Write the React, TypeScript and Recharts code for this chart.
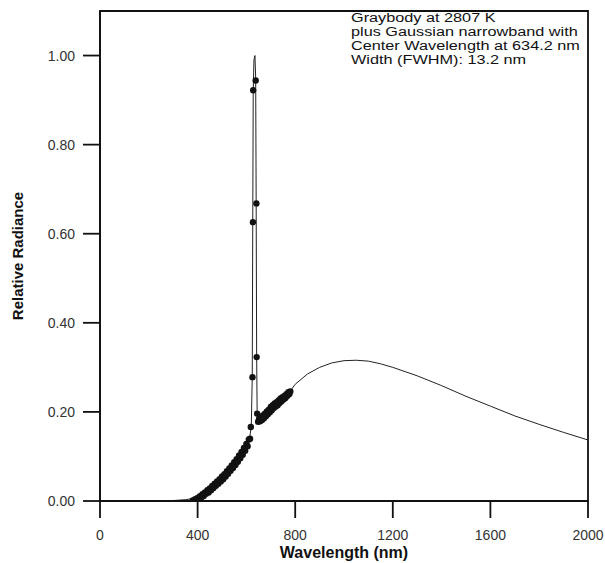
import { ComposedChart, Line, Scatter, XAxis, YAxis, ReferenceArea } from "recharts";

// thin model curve: graybody + narrowband spike (nm, relative radiance)
const modelW = [0, 100, 200, 300, 350, 400, 450, 500, 550, 600, 614, 620, 624, 626, 628, 631, 635, 638, 640, 642, 644, 646, 650, 700, 750, 780, 800, 850, 900, 950, 1000, 1050, 1100, 1150, 1200, 1300, 1400, 1500, 1600, 1700, 1800, 1900, 2000];
const modelR = [0, 0, 0, 0.001, 0.003, 0.007, 0.024, 0.047, 0.08, 0.125, 0.145, 0.166, 0.28, 0.62, 0.92, 0.99, 1.0, 0.95, 0.67, 0.33, 0.2, 0.185, 0.18, 0.206, 0.232, 0.247, 0.262, 0.285, 0.3, 0.31, 0.315, 0.316, 0.314, 0.308, 0.3, 0.281, 0.259, 0.235, 0.213, 0.191, 0.172, 0.154, 0.137];

// measured points
const measuredW = [
  380, 385, 390, 395, 400, 405, 410, 415, 420, 425, 430, 435, 440, 445, 450, 455, 460, 465, 470, 475,
  480, 485, 490, 495, 500, 505, 510, 515, 520, 525, 530, 535, 540, 545, 550, 555, 560, 565, 570, 575,
  580, 585, 590, 595, 600, 605, 610, 615,
  618, 625, 627, 628, 638, 641, 642, 644,
  648, 652, 656, 660, 664, 668, 672, 676, 680, 684, 688, 692, 696, 700, 704, 708, 712, 716, 720, 724,
  728, 732, 736, 740, 744, 748, 752, 756, 760, 764, 768, 772, 776, 780,
];
const measuredR = [
  0.001, 0.0, 0.004, 0.002, 0.007, 0.004, 0.011, 0.008, 0.015, 0.011, 0.019, 0.016, 0.024, 0.019, 0.028, 0.024, 0.034, 0.029, 0.039, 0.034,
  0.044, 0.039, 0.049, 0.044, 0.055, 0.049, 0.06, 0.055, 0.067, 0.061, 0.073, 0.068, 0.08, 0.074, 0.087, 0.081, 0.094, 0.088, 0.102, 0.096,
  0.11, 0.104, 0.119, 0.113, 0.128, 0.123, 0.138, 0.14,
  0.166, 0.278, 0.626, 0.922, 0.944, 0.668, 0.323, 0.196,
  0.178, 0.184, 0.179, 0.188, 0.182, 0.192, 0.186, 0.196, 0.19, 0.201, 0.195, 0.205, 0.199, 0.211, 0.204, 0.215, 0.209, 0.219, 0.212, 0.222,
  0.215, 0.226, 0.22, 0.23, 0.224, 0.233, 0.228, 0.236, 0.231, 0.24, 0.236, 0.244, 0.24, 0.246,
];

const xTicks = [0, 400, 800, 1200, 1600, 2000];
const yTicks = [0, 0.2, 0.4, 0.6, 0.8, 1.0];

const noteLines = [
  "Graybody at 2807 K",
  "plus Gaussian narrowband with",
  "Center Wavelength at 634.2 nm",
  "Width (FWHM): 13.2 nm",
];

const modelData = modelW.map((w, i) => ({ w, r: modelR[i] }));
const measuredData = measuredW.map((w, i) => ({ w, r: measuredR[i] }));

const font = "'Liberation Sans', Arial, sans-serif";
const tickStyle = { fontSize: 14, fill: "#333", fontFamily: font };

const Dot = (props: any) => <circle cx={props.cx} cy={props.cy} r={3.2} fill="#111" />;

export default function App() {
  return (
    <div style={{ position: "absolute", left: 0, top: 0, width: 605, height: 563, background: "#fff", fontFamily: font }}>
      <ComposedChart width={605} height={563} margin={{ top: 11, right: 17, bottom: 0, left: 0 }}>
        <XAxis
          type="number"
          dataKey="w"
          domain={[0, 2000]}
          ticks={xTicks}
          allowDataOverflow
          height={62}
          tickSize={17}
          tickMargin={12}
          stroke="#111"
          strokeWidth={1.8}
          tick={tickStyle}
          label={{ value: "Wavelength (nm)", position: "insideBottom", offset: 5, style: { fontSize: 16, fontWeight: "bold", fill: "#111", fontFamily: font } }}
        />
        <YAxis
          type="number"
          dataKey="r"
          domain={[0, 1.1]}
          ticks={yTicks}
          allowDataOverflow
          width={100}
          tickSize={17}
          tickMargin={8}
          stroke="#111"
          strokeWidth={1.8}
          tick={tickStyle}
          tickFormatter={(v: number) => v.toFixed(2)}
          label={{ value: "Relative Radiance", angle: -90, position: "insideLeft", offset: 18, style: { textAnchor: "middle", fontSize: 15, fontWeight: "bold", fill: "#111", fontFamily: font } }}
        />
        <ReferenceArea x1={0} x2={2000} y1={0} y2={1.1} fill="none" stroke="#111" strokeWidth={1.8} />
        <Line
          data={modelData}
          dataKey="r"
          type="linear"
          stroke="#222"
          strokeWidth={1}
          dot={false}
          isAnimationActive={false}
        />
        <Scatter data={measuredData} dataKey="r" shape={Dot} isAnimationActive={false} />
      </ComposedChart>
      <div
        style={{
          position: "absolute",
          left: 351,
          top: 11,
          fontSize: 12.5,
          lineHeight: "14px",
          color: "#111",
          transform: "scaleX(1.3)",
          transformOrigin: "left top",
          whiteSpace: "nowrap",
        }}
      >
        {noteLines.map((t) => (
          <div key={t}>{t}</div>
        ))}
      </div>
    </div>
  );
}
